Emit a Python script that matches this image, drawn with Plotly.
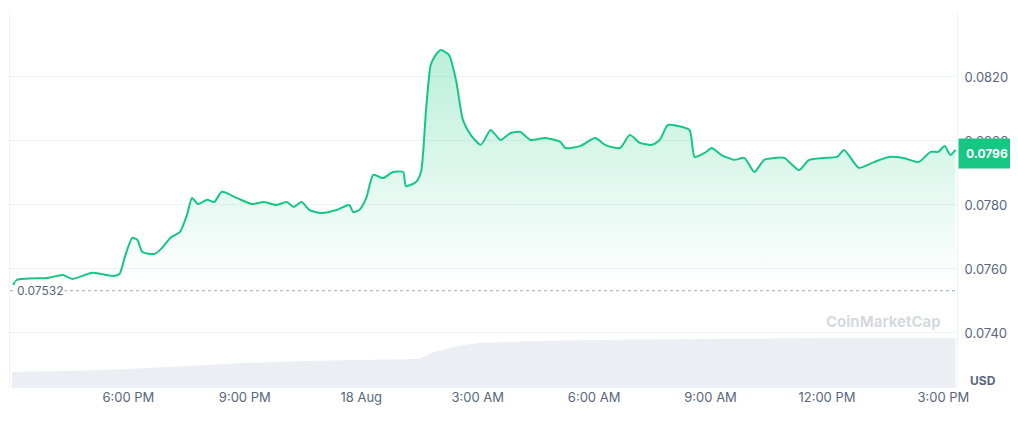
import pandas as pd
import plotly.graph_objects as go

# hours since 17 Aug 3:00 PM, price in USD
hours = [0.03, 0.13, 0.92, 1.31, 1.56, 2.08, 2.59, 2.77, 2.90, 3.10, 3.23, 3.36, 3.67, 3.87, 4.08,
         4.33, 4.51, 4.64, 4.79, 5.03, 5.21, 5.41, 5.79, 6.18, 6.49, 6.82, 7.08, 7.26, 7.46, 7.67,
         7.97, 8.36, 8.69, 8.79, 8.95, 9.13, 9.31, 9.56, 9.82, 10.08, 10.15, 10.41, 10.54, 10.67,
         10.79, 10.92, 11.05, 11.26, 11.44, 11.62, 11.82, 12.08, 12.33, 12.46, 12.59, 12.85, 13.10,
         13.36, 13.74, 14.13, 14.26, 14.64, 15.03, 15.28, 15.67, 15.92, 16.18, 16.49, 16.69, 16.90,
         17.15, 17.46, 17.59, 17.85, 18.03, 18.28, 18.62, 18.87, 19.13, 19.38, 19.64, 19.90, 20.28,
         20.54, 20.92, 21.26, 21.44, 21.82, 22.21, 22.59, 22.97, 23.36, 23.67, 23.87, 24.03, 24.18, 24.31]
price = [0.07550, 0.07566, 0.07572, 0.07581, 0.07569, 0.07588, 0.07578, 0.07584, 0.07634, 0.07697,
         0.07691, 0.07653, 0.07647, 0.07666, 0.07697, 0.07716, 0.07769, 0.07822, 0.07803, 0.07816,
         0.07809, 0.07841, 0.07822, 0.07803, 0.07809, 0.07800, 0.07809, 0.07794, 0.07809, 0.07784,
         0.07775, 0.07784, 0.07800, 0.07778, 0.07784, 0.07822, 0.07894, 0.07884, 0.07903, 0.07903,
         0.07859, 0.07872, 0.07903, 0.08097, 0.08238, 0.08269, 0.08284, 0.08269, 0.08191, 0.08066,
         0.08019, 0.07988, 0.08034, 0.08019, 0.08003, 0.08025, 0.08028, 0.08003, 0.08009, 0.07997,
         0.07978, 0.07984, 0.08009, 0.07988, 0.07978, 0.08019, 0.07994, 0.07988, 0.08003, 0.08050,
         0.08047, 0.08034, 0.07950, 0.07963, 0.07978, 0.07956, 0.07941, 0.07947, 0.07903, 0.07941,
         0.07947, 0.07947, 0.07909, 0.07941, 0.07947, 0.07950, 0.07972, 0.07916, 0.07934, 0.07950,
         0.07947, 0.07934, 0.07966, 0.07966, 0.07984, 0.07956, 0.07972]

# relative volume
vol_hours = [0, 1.5, 3, 4.5, 6, 7.5, 9, 10.5, 10.8, 11.5, 12, 13.5, 15, 18, 21, 24.31]
volume = [16, 17, 19, 22, 25, 27, 28, 29, 35, 42, 45, 47, 48, 49, 50, 50]

tick_hours = [0, 3, 6, 9, 12, 15, 18, 21, 24]
tick_text = ['3:00 PM', '6:00 PM', '9:00 PM', '18 Aug', '3:00 AM', '6:00 AM', '9:00 AM', '12:00 PM', '3:00 PM']
y_ticks = [0.0740, 0.0760, 0.0780, 0.0800, 0.0820]
open_price = 0.07532
last_price = 0.0796

base = pd.Timestamp('2023-08-17 15:00')
t = [base + pd.Timedelta(hours=h) for h in hours]
vt = [base + pd.Timedelta(hours=h) for h in vol_hours]
ticks = [base + pd.Timedelta(hours=h) for h in tick_hours]

GREEN = '#16c784'
fig = go.Figure()
fig.add_trace(go.Scatter(x=vt, y=volume, yaxis='y2', mode='lines', line=dict(width=0),
                         fill='tozeroy', fillcolor='rgba(222,226,234,0.6)', hoverinfo='skip'))
fig.add_trace(go.Scatter(
    x=t, y=price, mode='lines', line=dict(color=GREEN, width=2, shape='spline', smoothing=0.6),
    fill='tozeroy',
    fillgradient=dict(type='vertical', start=0.0755, stop=0.0830,
                      colorscale=[[0, 'rgba(22,199,132,0)'], [1, 'rgba(22,199,132,0.3)']])))
fig.add_hline(y=open_price, line=dict(color='#a0a7b5', width=1, dash='dot'))

fig.add_annotation(x=0.005, xref='paper', y=open_price, text='0.07532', showarrow=False,
                   xanchor='left', bgcolor='white', font=dict(size=12, color='#58667e'))
fig.add_annotation(x=1, xref='paper', y=last_price, text='<b>0.0796</b>', showarrow=False,
                   xanchor='left', xshift=1, bgcolor=GREEN, borderpad=7, font=dict(size=12, color='white'))
fig.add_annotation(x=1.012, xref='paper', y=-0.005, yref='paper', text='<b>USD</b>', showarrow=False,
                   xanchor='left', yanchor='bottom', font=dict(size=12, color='#58667e'))
fig.add_annotation(x=0.985, xref='paper', y=0.145, yref='paper', text='<b>CoinMarketCap</b>',
                   showarrow=False, xanchor='right', font=dict(size=15, color='rgba(160,167,181,0.45)'))

fig.update_layout(
    width=1018, height=425, margin=dict(l=2, r=69, t=4, b=45),
    paper_bgcolor='white', plot_bgcolor='white', showlegend=False,
    font=dict(family='Inter, Roboto, sans-serif', color='#58667e', size=13),
    xaxis=dict(range=[base - pd.Timedelta(hours=0.05), base + pd.Timedelta(hours=24.35)],
               tickvals=ticks, ticktext=tick_text, automargin=False,
               showgrid=False, zeroline=False, showline=False, ticks=''),
    yaxis=dict(range=[0.07228, 0.08403], side='right', tickvals=y_ticks, tickformat='.4f',
               automargin=False, ticklabelstandoff=4,
               gridcolor='#eff2f5', zeroline=False, showline=True, linecolor='#eff2f5', mirror=True),
    yaxis2=dict(range=[0, 376], overlaying='y', visible=False),
)
fig.write_html("out.html")
